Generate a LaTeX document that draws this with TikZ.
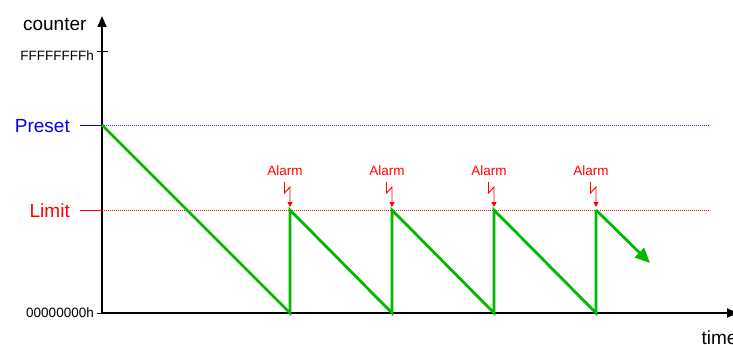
\documentclass[tikz,border=0pt]{standalone}
\usepackage{fontspec}
\setmainfont{Liberation Sans}
\usetikzlibrary{arrows.meta}
\definecolor{grn}{RGB}{0,185,0}
\definecolor{pblue}{RGB}{0,0,235}
\definecolor{dblue}{RGB}{40,40,255}
\definecolor{lred}{RGB}{255,0,0}
\begin{document}
\begin{tikzpicture}[x=1pt,y=-1pt,
  axis/.style={line width=1.8pt,-{Triangle[length=11pt,width=9pt]}},
  saw/.style={grn,line width=2.8pt,line join=miter},
  big/.style={font=\fontsize{19}{19}\selectfont},
  small/.style={font=\fontsize{13.5}{14}\selectfont},
  alarmtxt/.style={lred,font=\fontsize{13.5}{14}\selectfont,anchor=base},
  bolt/.style={lred,line width=0.9pt,-{Triangle[length=5pt,width=5pt]}},
  dotline/.style={line width=0.8pt,dash pattern=on 0.8pt off 1.2pt}]
\useasboundingbox (0,0) rectangle (733,345);
% axes
\coordinate (O) at (102,313);
\coordinate (Ytop) at (102,16);
\coordinate (Xend) at (738,313);
\draw[axis] (O) -- (Ytop);
\draw[axis] (O) -- (Xend);
\node[big,anchor=base east] (counter) at (90,31) {counter};
\node[big,anchor=base west] (time) at (698,344) {time};
% ticks and labels
\coordinate (ffa) at (97,51); \coordinate (ffb) at (108,51);
\draw[line width=0.9pt] (ffa) -- (ffb);
\node[small,anchor=base east,inner sep=0pt] (ff) at (94,60) {FFFFFFFFh};
\coordinate (zza) at (97,313);
\draw[line width=0.9pt] (zza) -- (O);
\node[small,anchor=base east,inner sep=0pt] (zz) at (94,317) {00000000h};
\coordinate (pa) at (80,125); \coordinate (pb) at (102,125); \coordinate (pc) at (710,125);
\draw[pblue,line width=1pt] (pa) -- (pb);
\draw[dblue,dotline] (pb) -- (pc);
\node[big,pblue,anchor=base east,inner sep=0pt] (preset) at (70,132) {Preset};
\coordinate (la) at (80,210); \coordinate (lb) at (102,210); \coordinate (lc) at (710,210);
\draw[lred,line width=1pt] (la) -- (lb);
\draw[lred,dotline] (lb) -- (lc);
\node[big,lred,anchor=base east,inner sep=0pt] (limit) at (70,217) {Limit};
% sawtooth
\coordinate (s0) at (102,125);
\coordinate (b1) at (290,313); \coordinate (t1) at (290,210);
\coordinate (b2) at (392,313); \coordinate (t2) at (392,210);
\coordinate (b3) at (494,313); \coordinate (t3) at (494,210);
\coordinate (b4) at (596,313); \coordinate (t4) at (596,210);
\coordinate (e) at (650,263);
\draw[saw] (s0) -- (b1) -- (t1) -- (b2) -- (t2) -- (b3) -- (t3) -- (b4) -- (t4);
\draw[saw,-{Triangle[length=15pt,width=13pt]}] (t4) -- (e);
% alarms
\foreach \x [count=\i] in {290,392,494,596}{
  \node[alarmtxt] (al\i) at (\x-5,175) {Alarm};
  \coordinate (z\i a) at (\x-5.5,182);
  \coordinate (z\i b) at (\x-5.5,193);
  \coordinate (z\i c) at (\x,187);
  \coordinate (z\i d) at (\x,207);
  \draw[bolt] (z\i a) -- (z\i b) -- (z\i c) -- (z\i d);
}
\end{tikzpicture}
\end{document}
